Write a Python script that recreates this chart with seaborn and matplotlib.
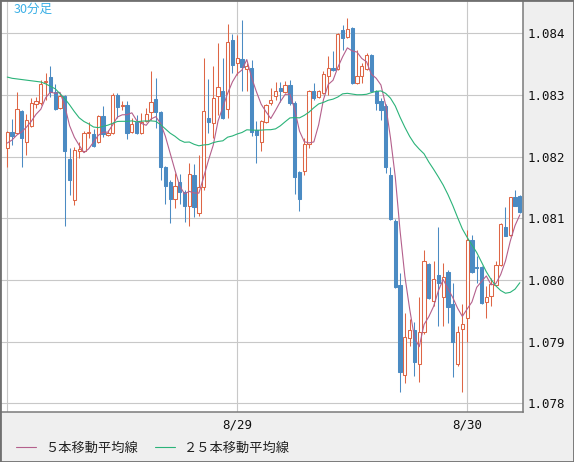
import numpy as np
import pandas as pd
import matplotlib
matplotlib.use("Agg")
import matplotlib.pyplot as plt
import seaborn as sns
from matplotlib.patches import Rectangle
from matplotlib.font_manager import FontProperties

# ---------------- data (30-minute candles) ----------------
opens = [1.08214, 1.08240, 1.08238, 1.08274, 1.08224, 1.08250, 1.08285, 1.08287, 1.08321, 1.08329,
         1.08305, 1.08279, 1.08298, 1.08196, 1.08130, 1.08209, 1.08209, 1.08238, 1.08237, 1.08224,
         1.08266, 1.08235, 1.08238, 1.08300, 1.08282, 1.08284, 1.08240, 1.08256, 1.08238, 1.08258,
         1.08272, 1.08293, 1.08272, 1.08183, 1.08159, 1.08131, 1.08159, 1.08143, 1.08120, 1.08170,
         1.08109, 1.08151, 1.08263, 1.08254, 1.08298, 1.08306, 1.08277, 1.08389, 1.08352, 1.08358,
         1.08342, 1.08344, 1.08243, 1.08224, 1.08256, 1.08287, 1.08298, 1.08311, 1.08305, 1.08316,
         1.08287, 1.08175, 1.08177, 1.08220, 1.08306, 1.08297, 1.08303, 1.08331, 1.08344, 1.08342,
         1.08405, 1.08394, 1.08409, 1.08320, 1.08330, 1.08342, 1.08365, 1.08306, 1.08290, 1.08282,
         1.08170, 1.08096, 1.07992, 1.07845, 1.07906, 1.07918, 1.07864, 1.07915, 1.08026, 1.07966,
         1.08008, 1.07972, 1.08013, 1.07961, 1.07863, 1.07920, 1.07938, 1.08065, 1.08021, 1.08021,
         1.07964, 1.07974, 1.07992, 1.08024, 1.08086, 1.08073, 1.08135, 1.08136]
closes = [1.08240, 1.08233, 1.08277, 1.08230, 1.08259, 1.08287, 1.08290, 1.08318, 1.08323, 1.08305,
          1.08277, 1.08298, 1.08209, 1.08162, 1.08211, 1.08212, 1.08238, 1.08240, 1.08217, 1.08266,
          1.08237, 1.08238, 1.08300, 1.08280, 1.08284, 1.08238, 1.08253, 1.08238, 1.08256, 1.08269,
          1.08289, 1.08272, 1.08183, 1.08152, 1.08131, 1.08152, 1.08143, 1.08120, 1.08172, 1.08118,
          1.08151, 1.08274, 1.08256, 1.08295, 1.08313, 1.08263, 1.08386, 1.08349, 1.08360, 1.08345,
          1.08347, 1.08240, 1.08235, 1.08258, 1.08284, 1.08292, 1.08306, 1.08306, 1.08316, 1.08287,
          1.08167, 1.08131, 1.08220, 1.08306, 1.08295, 1.08306, 1.08334, 1.08344, 1.08340, 1.08399,
          1.08392, 1.08407, 1.08319, 1.08331, 1.08347, 1.08365, 1.08306, 1.08287, 1.08276, 1.08183,
          1.08099, 1.07989, 1.07851, 1.07907, 1.07918, 1.07867, 1.07915, 1.08031, 1.07971, 1.08001,
          1.07995, 1.08005, 1.07956, 1.07900, 1.07915, 1.07928, 1.08065, 1.08013, 1.08019, 1.07962,
          1.07973, 1.07993, 1.08024, 1.08091, 1.08072, 1.08134, 1.08120, 1.08110]
highs = [1.08242, 1.08261, 1.08305, 1.08276, 1.08269, 1.08295, 1.08297, 1.08324, 1.08336, 1.08347,
         1.08318, 1.08303, 1.08300, 1.08214, 1.08216, 1.08224, 1.08242, 1.08256, 1.08245, 1.08267,
         1.08282, 1.08243, 1.08303, 1.08303, 1.08290, 1.08290, 1.08263, 1.08267, 1.08271, 1.08279,
         1.08339, 1.08327, 1.08274, 1.08185, 1.08162, 1.08173, 1.08172, 1.08146, 1.08190, 1.08188,
         1.08203, 1.08360, 1.08326, 1.08347, 1.08384, 1.08360, 1.08415, 1.08399, 1.08397, 1.08422,
         1.08352, 1.08357, 1.08258, 1.08259, 1.08285, 1.08311, 1.08321, 1.08321, 1.08323, 1.08324,
         1.08290, 1.08177, 1.08230, 1.08308, 1.08319, 1.08308, 1.08339, 1.08363, 1.08371, 1.08400,
         1.08413, 1.08425, 1.08410, 1.08373, 1.08352, 1.08368, 1.08366, 1.08308, 1.08295, 1.08285,
         1.08183, 1.08099, 1.08011, 1.07946, 1.07937, 1.07932, 1.07972, 1.08048, 1.08027, 1.08031,
         1.08086, 1.08027, 1.08016, 1.07995, 1.07925, 1.07961, 1.08081, 1.08073, 1.08038, 1.08023,
         1.07990, 1.08003, 1.08030, 1.08092, 1.08118, 1.08135, 1.08146, 1.08138]
lows = [1.08183, 1.08219, 1.08237, 1.08183, 1.08203, 1.08248, 1.08279, 1.08284, 1.08292, 1.08297,
        1.08276, 1.08277, 1.08087, 1.08138, 1.08122, 1.08198, 1.08207, 1.08230, 1.08216, 1.08222,
        1.08232, 1.08233, 1.08237, 1.08263, 1.08276, 1.08228, 1.08238, 1.08237, 1.08237, 1.08256,
        1.08259, 1.08246, 1.08162, 1.08123, 1.08092, 1.08117, 1.08123, 1.08094, 1.08087, 1.08102,
        1.08104, 1.08146, 1.08238, 1.08230, 1.08267, 1.08261, 1.08263, 1.08336, 1.08332, 1.08306,
        1.08306, 1.08233, 1.08190, 1.08209, 1.08254, 1.08284, 1.08292, 1.08289, 1.08303, 1.08284,
        1.08139, 1.08112, 1.08170, 1.08214, 1.08292, 1.08295, 1.08302, 1.08300, 1.08339, 1.08340,
        1.08373, 1.08392, 1.08318, 1.08318, 1.08320, 1.08340, 1.08305, 1.08276, 1.08259, 1.08173,
        1.08097, 1.07987, 1.07818, 1.07833, 1.07893, 1.07844, 1.07834, 1.07912, 1.07969, 1.07958,
        1.07925, 1.07925, 1.07930, 1.07842, 1.07860, 1.07818, 1.07899, 1.08011, 1.07995, 1.07961,
        1.07939, 1.07957, 1.07990, 1.08023, 1.08071, 1.08071, 1.08120, 1.08109]
# moving-average values at the left edge (they depend on bars before the window)
ma5_lead = [1.08222, 1.08227, 1.08235, 1.08240]
ma25_lead = [1.08329, 1.08327, 1.08326, 1.08325, 1.08324, 1.08323, 1.08322, 1.08321, 1.08318, 1.08314,
             1.08310, 1.08302, 1.08294, 1.08284, 1.08273, 1.08263, 1.08257, 1.08253, 1.08248, 1.08247,
             1.08249, 1.08251, 1.08254, 1.08257]
y_ticks = [1.078, 1.079, 1.080, 1.081, 1.082, 1.083, 1.084]
date_ticks = [0, 48, 96]
date_labels = ["", "8/29", "8/30"]
ma_labels = ["５本移動平均線", "２５本移動平均線"]
title_text = "30分足"

# ---------------- frame ----------------
n = len(closes)
df = pd.DataFrame({"t": np.arange(n), "open": opens, "high": highs,
                   "low": lows, "close": closes})
r5 = df["close"].rolling(5).mean().to_numpy()
r25 = df["close"].rolling(25).mean().to_numpy()
r5[:len(ma5_lead)] = ma5_lead
r25[:len(ma25_lead)] = ma25_lead
df["ma5"] = r5
df["ma25"] = r25

RED = "#de6646"
BLUE = "#4b8bc3"
PINK = "#b4608c"
GREEN = "#2bb379"

sns.set_style("white")
plt.rcParams["font.family"] = ["DejaVu Sans Mono", "Noto Sans CJK JP"]

W, H = 574, 462
fig = plt.figure(figsize=(W / 100, H / 100), dpi=100, facecolor="#efefef")
ax_l, ax_r, ax_t, ax_b = 0.0, 523.3, 0.0, 411.5
ax = fig.add_axes([ax_l / W, (H - ax_b) / H, (ax_r - ax_l) / W, (ax_b - ax_t) / H])
ax.set_facecolor("white")

up = df[df["close"] >= df["open"]]
dn = df[df["close"] < df["open"]]
lw = 0.75
bw = 0.68
ax.vlines(up["t"], up["low"], up["high"], color=RED, lw=lw, zorder=3)
ax.vlines(dn["t"], dn["low"], dn["high"], color=BLUE, lw=lw, zorder=3)
ax.bar(up["t"], up["close"] - up["open"], bottom=up["open"], width=bw,
       facecolor="white", edgecolor=RED, linewidth=lw, zorder=4)
ax.bar(dn["t"], dn["close"] - dn["open"], bottom=dn["open"], width=bw,
       facecolor=BLUE, edgecolor=BLUE, linewidth=lw, zorder=4)

sns.lineplot(data=df, x="t", y="ma5", color=PINK, lw=0.8, ax=ax, label=ma_labels[0], zorder=5)
sns.lineplot(data=df, x="t", y="ma25", color=GREEN, lw=0.8, ax=ax, label=ma_labels[1], zorder=5)

px = 4.79  # pixels per bar
ax.set_xlim(-7.3 / px, (n - 1) + (ax_r - (7.3 + px * (n - 1))) / px)
ax.set_ylim(1.08454 - 0.00001622 * ax_b, 1.08454)
ax.set_yticks(y_ticks)
ax.set_yticklabels([f"{v:.3f}" for v in y_ticks])
ax.set_xticks(date_ticks)
ax.set_xticklabels(date_labels)
ax.yaxis.tick_right()
ax.tick_params(axis="y", length=0, pad=3, labelsize=9, labelcolor="#111111")
ax.tick_params(axis="x", length=0, pad=5, labelsize=9, labelcolor="#111111")
ax.grid(True, color="#c8c8c8", lw=0.8, zorder=0)
ax.set_axisbelow(True)
ax.set_xlabel("")
ax.set_ylabel("")
for s in ["left", "top"]:
    ax.spines[s].set_visible(False)
for s in ["right", "bottom"]:
    ax.spines[s].set_color("#7a7a7a")
    ax.spines[s].set_linewidth(1.1)

handles, labels = ax.get_legend_handles_labels()
ax.get_legend().remove()
fig.legend(handles, labels, loc="center left", bbox_to_anchor=(16 / W, 14 / H),
           ncol=2, frameon=False, prop=FontProperties(family=["Noto Sans CJK JP"], size=9.5),
           handlelength=1.55, handletextpad=0.65, columnspacing=1.3,
           borderpad=0, borderaxespad=0, labelcolor="#222222")

fig.text(14 / W, 1 - 3 / H, title_text, color="#3cb0e6", fontsize=9,
         family=["Noto Sans CJK JP"], va="top", ha="left")

fig.patches.append(Rectangle((0, 0), 1, 1, transform=fig.transFigure, fill=False,
                             edgecolor="#707070", lw=2.0, zorder=10))

fig.savefig("out.png", dpi=100, facecolor=fig.get_facecolor())
